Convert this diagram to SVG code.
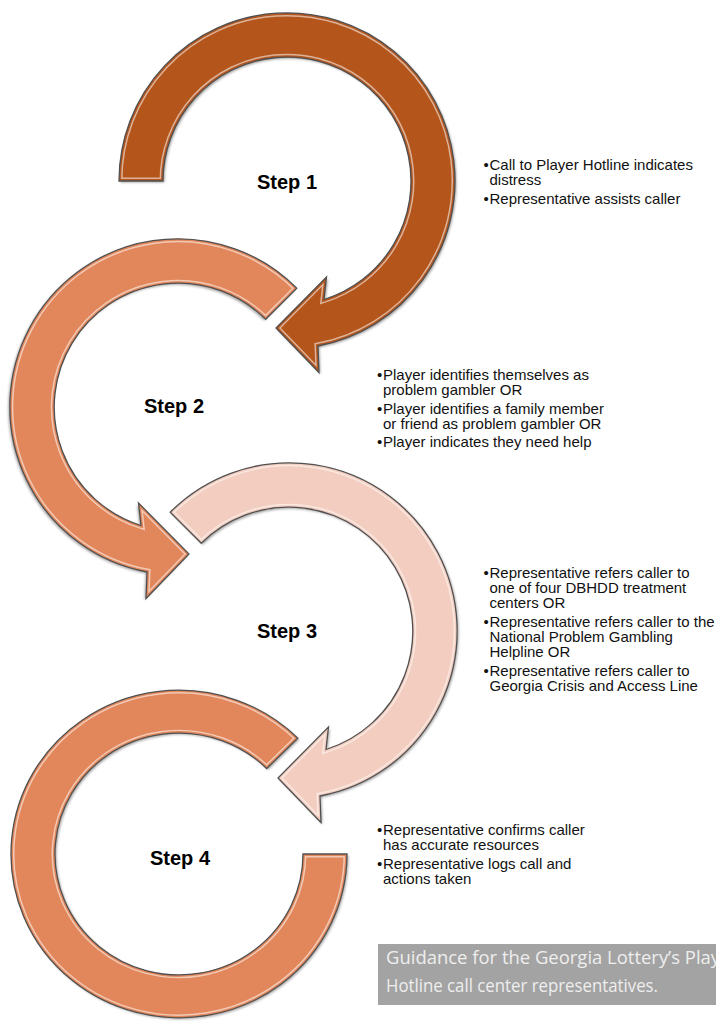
<svg xmlns="http://www.w3.org/2000/svg" width="716" height="1021" viewBox="0 0 716 1021">
<style>
.label{font-family:"Liberation Sans",Arial,sans-serif;font-weight:bold;font-size:20px;fill:#000;text-anchor:middle}
.bul{font-family:"Liberation Sans",Arial,sans-serif;font-size:15px;fill:#111}
.cap{font-family:"Open Sans","Liberation Sans",sans-serif;font-size:18px;fill:#eeeeee}
.outline{fill:none;stroke:#505050;stroke-width:1.3}
.hl{fill:none;stroke:#ffffff;stroke-opacity:0.55;stroke-width:7}
.c1{fill:#B4561F}
.c2{fill:#E2875B}
.c3{fill:#F3CDBF}
.s1{fill:none;stroke:#B4561F;stroke-width:4}
.s2{fill:none;stroke:#E2875B;stroke-width:4}
.s3{fill:none;stroke:#F3CDBF;stroke-width:4}
</style>
<defs>
<path id="arrA" d="M -168 0 A 168 168 0 1 1 31 165 L 32 191.5 L -11 147 L 39.5 96 L 37 118.5 A 124 124 0 1 0 -124 0 Z"/>
<path id="arrB" d="M -118.79 -118.79 A 168 168 0 1 1 31 165 L 32 191.5 L -11 147 L 39.5 96 L 37 118.5 A 124 124 0 1 0 -87.68 -87.68 Z"/>
<path id="ring" d="M 168 0 A 168 168 0 1 1 118.79 -118.79 L 87.68 -87.68 A 124 124 0 1 0 124 0 Z"/>
<clipPath id="cA"><use href="#arrA"/></clipPath>
<clipPath id="cB"><use href="#arrB"/></clipPath>
<clipPath id="cR"><use href="#ring"/></clipPath>
<clipPath id="cCap"><rect x="378" y="944" width="338" height="61"/></clipPath>
<filter id="sh" x="-10%" y="-10%" width="130%" height="130%"><feDropShadow dx="1.5" dy="1.5" stdDeviation="1.2" flood-color="#000" flood-opacity="0.35"/></filter>
</defs>

<g id="step1">
 <g transform="translate(287,181)">
  <use href="#arrA" class="c1" filter="url(#sh)"/>
  <g clip-path="url(#cA)"><use href="#arrA" class="hl"/><use href="#arrA" class="s1"/></g>
  <use href="#arrA" class="outline"/>
 </g>
 <text class="label" x="287" y="189">Step 1</text>
 <text class="bul"><tspan x="483.5" y="169.5">•</tspan><tspan x="489.5" y="169.5">Call to Player Hotline indicates</tspan><tspan x="489.5" y="184.5">distress</tspan><tspan x="483.5" y="203.5">•</tspan><tspan x="489.5" y="203.5">Representative assists caller</tspan></text>
</g>

<g id="step2">
 <g transform="translate(178,407) scale(-1,1)">
  <use href="#arrB" class="c2" filter="url(#sh)"/>
  <g clip-path="url(#cB)"><use href="#arrB" class="hl"/><use href="#arrB" class="s2"/></g>
  <use href="#arrB" class="outline"/>
 </g>
 <text class="label" x="174" y="413">Step 2</text>
 <text class="bul"><tspan x="377" y="380">•</tspan><tspan x="383" y="380">Player identifies themselves as</tspan><tspan x="383" y="395">problem gambler OR</tspan><tspan x="377" y="413.5">•</tspan><tspan x="383" y="413.5">Player identifies a family member</tspan><tspan x="383" y="428.5">or friend as problem gambler OR</tspan><tspan x="377" y="447">•</tspan><tspan x="383" y="447">Player indicates they need help</tspan></text>
</g>

<g id="step3">
 <g transform="translate(289,631)">
  <use href="#arrB" class="c3" filter="url(#sh)"/>
  <g clip-path="url(#cB)"><use href="#arrB" class="hl"/><use href="#arrB" class="s3"/></g>
  <use href="#arrB" class="outline"/>
 </g>
 <text class="label" x="287" y="638">Step 3</text>
 <text class="bul"><tspan x="483.5" y="578">•</tspan><tspan x="489.5" y="578">Representative refers caller to</tspan><tspan x="489.5" y="593">one of four DBHDD treatment</tspan><tspan x="489.5" y="608">centers OR</tspan><tspan x="483.5" y="627">•</tspan><tspan x="489.5" y="627">Representative refers caller to the</tspan><tspan x="489.5" y="642">National Problem Gambling</tspan><tspan x="489.5" y="657">Helpline OR</tspan><tspan x="483.5" y="676">•</tspan><tspan x="489.5" y="676">Representative refers caller to</tspan><tspan x="489.5" y="691">Georgia Crisis and Access Line</tspan></text>
</g>

<g id="step4">
 <g transform="translate(179,854) scale(1,0.975)">
  <use href="#ring" class="c2" filter="url(#sh)"/>
  <g clip-path="url(#cR)"><use href="#ring" class="hl"/><use href="#ring" class="s2"/></g>
  <use href="#ring" class="outline"/>
 </g>
 <text class="label" x="180" y="865">Step 4</text>
 <text class="bul"><tspan x="377" y="835">•</tspan><tspan x="383" y="835">Representative confirms caller</tspan><tspan x="383" y="850">has accurate resources</tspan><tspan x="377" y="869">•</tspan><tspan x="383" y="869">Representative logs call and</tspan><tspan x="383" y="884">actions taken</tspan></text>
</g>

<g id="caption">
 <rect x="378" y="944" width="338" height="61" fill="#A3A3A3"/>
 <g clip-path="url(#cCap)">
  <text class="cap" x="386" y="964" textLength="352" lengthAdjust="spacingAndGlyphs">Guidance for the Georgia Lottery’s Player</text>
  <text class="cap" x="386" y="992" textLength="272" lengthAdjust="spacingAndGlyphs">Hotline call center representatives.</text>
 </g>
</g>
</svg>
